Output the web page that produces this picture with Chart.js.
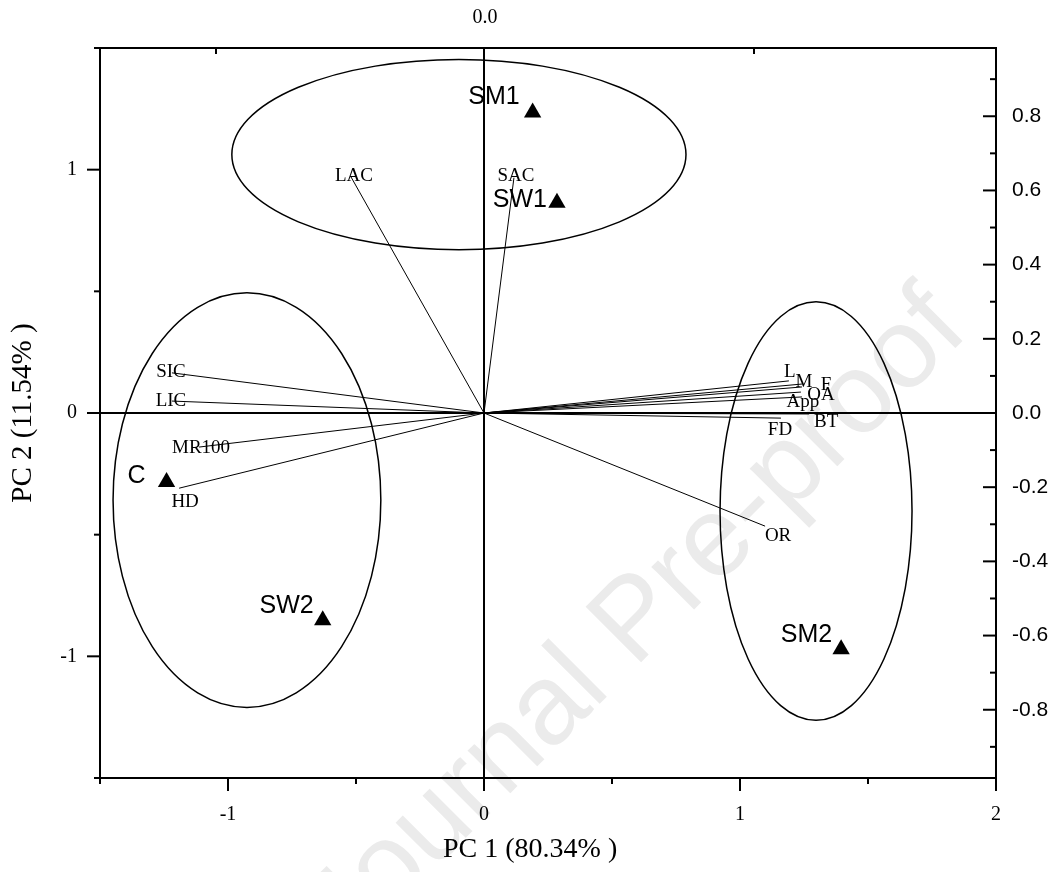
<html>
<head>
    <title>PCA biplot</title>
    <style>
        body {
            margin: 0;
            background: #ffffff;
        }
    </style>
</head>
<body>

<script src="https://cdn.jsdelivr.net/npm/chart.js@4.4.1/dist/chart.umd.min.js"></script>

<canvas id="pca-biplot" width="1058" height="872"></canvas>

<script>

    // sample scores
    const sample_names = ['SM1', 'SW1', 'C', 'SW2', 'SM2'];
    const sample_pc1 = [0.19, 0.285, -1.24, -0.63, 1.395];
    const sample_pc2 = [1.235, 0.864, -0.284, -0.852, -0.971];

    // attribute loadings, drawn as lines from the origin
    const attr_names = ['LAC', 'SAC', 'SIC', 'LIC', 'MR100', 'HD', 'OR', 'L', 'M', 'F', 'OA', 'App', 'BT', 'FD'];
    const attr_pc1 = [-0.52, 0.117, -1.219, -1.219, -1.113, -1.191, 1.098, 1.191, 1.242, 1.242, 1.238, 1.242, 1.27, 1.16];
    const attr_pc2 = [0.971, 0.967, 0.165, 0.049, -0.14, -0.309, -0.465, 0.132, 0.119, 0.107, 0.086, 0.066, -0.004, -0.021];

    // group ellipses (centre, half axes)
    const group_cx = [-0.098, -0.926, 1.297];
    const group_cy = [1.062, -0.358, -0.403];
    const group_rx = [0.887, 0.523, 0.375];
    const group_ry = [0.391, 0.852, 0.86];

    // axis ticks
    const x_major = [-1, 0, 1, 2];
    const x_minor = [-1.5, -0.5, 0.5, 1.5];
    const y_major = [-1, 0, 1];
    const y_minor = [-1.5, -0.5, 0.5, 1.5];
    const y2_major = [-0.8, -0.6, -0.4, -0.2, 0, 0.2, 0.4, 0.6, 0.8];
    const y2_minor = [-0.9, -0.7, -0.5, -0.3, -0.1, 0.1, 0.3, 0.5, 0.7, 0.9];
    const x2_major = [0];
    const x2_minor = [-0.5, 0.5];

    // label placement in pixels relative to the mark: [dx, baseline dy]
    const sample_label_pos = {
        SM1: [-13, -8], SW1: [-10, 4], C: [-21, 1], SW2: [-9, -7], SM2: [-9, -7]
    };
    const attr_label_pos = {
        LAC: [3, 4], SAC: [2, 3], SIC: [-1, 4], LIC: [-1, 5], MR100: [2, 6], HD: [6, 19], OR: [13, 15],
        L: [1, -4], M: [2, 3], F: [24, 3], OA: [20, 8], App: [1, 10], BT: [17, 13], FD: [-1, 17]
    };

    const serif = '"Liberation Serif", "Times New Roman", serif';
    const sans = '"Liberation Sans", Arial, sans-serif';

    function set_ticks(values) {
        return function (scale) {
            scale.ticks = values.map(v => ({value: v}));
        };
    }

    function line(ctx, x1, y1, x2, y2) {
        ctx.beginPath();
        ctx.moveTo(x1, y1);
        ctx.lineTo(x2, y2);
        ctx.stroke();
    }

    const biplot_decor = {
        id: 'biplot_decor',
        beforeDraw(chart) {
            // watermark
            const ctx = chart.ctx;
            ctx.save();
            ctx.translate(637, 622);
            ctx.rotate(-45 * Math.PI / 180);
            ctx.font = '114px ' + sans;
            ctx.fillStyle = '#ebebeb';
            ctx.textAlign = 'center';
            ctx.textBaseline = 'middle';
            ctx.fillText('Journal Pre-proof', 0, 0);
            ctx.restore();
        },
        beforeDatasetsDraw(chart) {
            const ctx = chart.ctx;
            const area = chart.chartArea;
            const sx = chart.scales.x, sy = chart.scales.y, sx2 = chart.scales.x2, sy2 = chart.scales.y2;
            ctx.save();
            ctx.strokeStyle = '#000';
            ctx.lineWidth = 2;
            ctx.strokeRect(area.left, area.top, area.right - area.left, area.bottom - area.top);

            // zero lines
            const x0 = sx.getPixelForValue(0), y0 = sy.getPixelForValue(0);
            line(ctx, area.left, y0, area.right, y0);
            line(ctx, x0, area.top, x0, area.bottom);

            // tick marks
            x_major.forEach(v => { const p = sx.getPixelForValue(v); line(ctx, p, area.bottom, p, area.bottom + 13); });
            x_minor.forEach(v => { const p = sx.getPixelForValue(v); line(ctx, p, area.bottom, p, area.bottom + 6); });
            y_major.forEach(v => { const p = sy.getPixelForValue(v); line(ctx, area.left, p, area.left - 13, p); });
            y_minor.forEach(v => { const p = sy.getPixelForValue(v); line(ctx, area.left, p, area.left - 6, p); });
            y2_major.forEach(v => { const p = sy2.getPixelForValue(v); line(ctx, area.right, p, area.right - 13, p); });
            y2_minor.forEach(v => { const p = sy2.getPixelForValue(v); line(ctx, area.right, p, area.right - 6, p); });
            x2_minor.forEach(v => { const p = sx2.getPixelForValue(v); line(ctx, p, area.top, p, area.top + 6); });

            // group ellipses
            ctx.lineWidth = 1.5;
            for (let i = 0; i < group_cx.length; i++) {
                const cx = sx.getPixelForValue(group_cx[i]);
                const cy = sy.getPixelForValue(group_cy[i]);
                const rx = Math.abs(sx.getPixelForValue(group_cx[i] + group_rx[i]) - cx);
                const ry = Math.abs(sy.getPixelForValue(group_cy[i] + group_ry[i]) - cy);
                ctx.beginPath();
                ctx.ellipse(cx, cy, rx, ry, 0, 0, 2 * Math.PI);
                ctx.stroke();
            }

            // x axis title (sits a bit right of the axis centre in the original)
            ctx.fillStyle = '#000';
            ctx.font = '28px ' + serif;
            ctx.textAlign = 'left';
            ctx.textBaseline = 'alphabetic';
            ctx.fillText('PC 1 (80.34% )', 443, 857);
            ctx.restore();
        },
        afterDatasetsDraw(chart) {
            const ctx = chart.ctx;
            const sx = chart.scales.x, sy = chart.scales.y;
            ctx.save();
            ctx.fillStyle = '#000';
            ctx.textBaseline = 'alphabetic';

            ctx.font = '19px ' + serif;
            ctx.textAlign = 'center';
            attr_names.forEach((name, i) => {
                const pos = attr_label_pos[name];
                ctx.fillText(name, sx.getPixelForValue(attr_pc1[i]) + pos[0], sy.getPixelForValue(attr_pc2[i]) + pos[1]);
            });

            ctx.font = '25px ' + sans;
            ctx.textAlign = 'right';
            sample_names.forEach((name, i) => {
                const pos = sample_label_pos[name];
                ctx.fillText(name, sx.getPixelForValue(sample_pc1[i]) + pos[0], sy.getPixelForValue(sample_pc2[i]) + pos[1]);
            });
            ctx.restore();
        }
    };

    const datasets = [];
    attr_names.forEach((name, i) => {
        datasets.push({
            label: name,
            data: [{x: 0, y: 0}, {x: attr_pc1[i], y: attr_pc2[i]}],
            showLine: true,
            borderColor: '#000',
            borderWidth: 1,
            pointRadius: 0,
            xAxisID: 'x',
            yAxisID: 'y'
        });
    });
    datasets.push({
        label: 'samples',
        data: sample_names.map((n, i) => ({x: sample_pc1[i], y: sample_pc2[i]})),
        pointStyle: 'triangle',
        pointRadius: 10,
        backgroundColor: '#000',
        borderColor: '#000',
        borderWidth: 0,
        xAxisID: 'x',
        yAxisID: 'y'
    });

    const canvas_biplot = document.getElementById('pca-biplot');
    const biplot = new Chart(canvas_biplot, {
        type: 'scatter',
        data: {datasets: datasets},
        plugins: [biplot_decor],
        options: {
            responsive: false,
            animation: false,
            layout: {padding: 0},
            plugins: {
                legend: {display: false},
                tooltip: {enabled: false}
            },
            scales: {
                x: {
                    type: 'linear', position: 'bottom', min: -1.5, max: 2,
                    afterBuildTicks: set_ticks(x_major),
                    afterFit: s => { s.height = 94; },
                    grid: {display: false, drawTicks: false},
                    border: {display: false},
                    ticks: {color: '#000', font: {family: serif, size: 20}, padding: 25, maxRotation: 0,
                        callback: v => String(v)}
                },
                y: {
                    type: 'linear', position: 'left', min: -1.5, max: 1.5,
                    afterBuildTicks: set_ticks(y_major),
                    afterFit: s => { s.width = 100; },
                    grid: {display: false, drawTicks: false},
                    border: {display: false},
                    ticks: {color: '#000', font: {family: serif, size: 20}, padding: 23,
                        callback: v => String(v)},
                    title: {display: true, text: 'PC 2 (11.54% )', color: '#000',
                        font: {family: serif, size: 29}, padding: {top: 6}}
                },
                x2: {
                    type: 'linear', position: 'top', min: -0.7156, max: 0.9498,
                    afterBuildTicks: set_ticks(x2_major),
                    afterFit: s => { s.height = 48; },
                    grid: {display: false, drawTicks: false},
                    border: {display: false},
                    ticks: {color: '#000', font: {family: serif, size: 20}, padding: 18,
                        callback: v => v.toFixed(1)}
                },
                y2: {
                    type: 'linear', position: 'right', min: -0.984, max: 0.984,
                    afterBuildTicks: set_ticks(y2_major),
                    afterFit: s => { s.width = 62; },
                    grid: {display: false, drawTicks: false},
                    border: {display: false},
                    ticks: {color: '#000', font: {family: sans, size: 21}, padding: 16,
                        callback: v => v.toFixed(1)}
                }
            }
        }
    });

</script>

</body>
</html>
